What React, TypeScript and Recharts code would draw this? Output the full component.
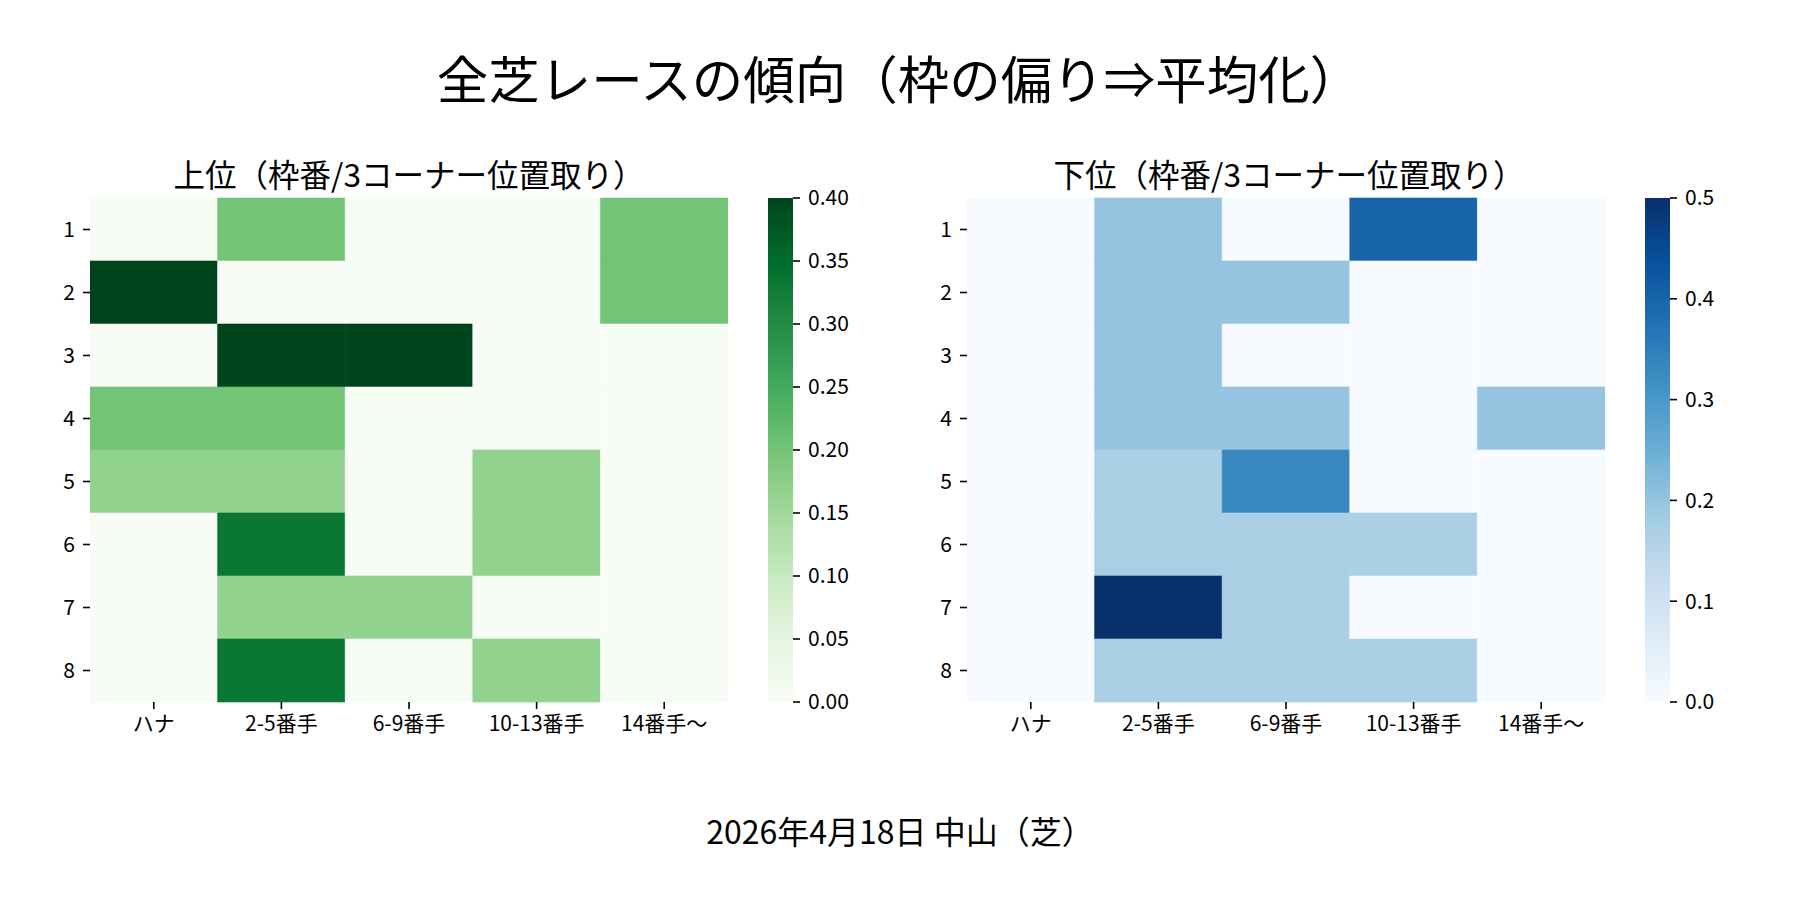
import React from 'react';
import { BarChart, Bar, XAxis, YAxis, Cell } from 'recharts';

const FONT = '"Noto Sans CJK JP", "Noto Sans", sans-serif';

const mainTitle = '全芝レースの傾向（枠の偏り⇒平均化）';
const upperTitle = '上位（枠番/3コーナー位置取り）';
const lowerTitle = '下位（枠番/3コーナー位置取り）';
const footerText = '2026年4月18日 中山（芝）';

const rowLabels = ['1', '2', '3', '4', '5', '6', '7', '8'];
const colLabels = ['ハナ', '2-5番手', '6-9番手', '10-13番手', '14番手〜'];

const upperValues = [
  [0, 0.2, 0, 0, 0.2],
  [0.4, 0, 0, 0, 0.2],
  [0, 0.4, 0.4, 0, 0],
  [0.2, 0.2, 0, 0, 0],
  [0.167, 0.167, 0, 0.167, 0],
  [0, 0.333, 0, 0.167, 0],
  [0, 0.167, 0.167, 0, 0],
  [0, 0.333, 0, 0.167, 0],
];

const lowerValues = [
  [0, 0.2, 0, 0.4, 0],
  [0, 0.2, 0.2, 0, 0],
  [0, 0.2, 0, 0, 0],
  [0, 0.2, 0.2, 0, 0.2],
  [0, 0.167, 0.333, 0, 0],
  [0, 0.167, 0.167, 0.167, 0],
  [0, 0.5, 0.167, 0, 0],
  [0, 0.167, 0.167, 0.167, 0],
];

const upperMax = 0.4;
const lowerMax = 0.5;
const upperTicks = [0, 0.05, 0.1, 0.15, 0.2, 0.25, 0.3, 0.35, 0.4];
const lowerTicks = [0, 0.1, 0.2, 0.3, 0.4, 0.5];

const GREENS = ['#f7fcf5', '#e5f5e0', '#c7e9c0', '#a1d99b', '#74c476', '#41ab5d', '#238b45', '#006d2c', '#00441b'];
const BLUES = ['#f7fbff', '#deebf7', '#c6dbef', '#9ecae1', '#6baed6', '#4292c6', '#2171b5', '#08519c', '#08306b'];

function hexToRgb(h: string) {
  return [parseInt(h.slice(1, 3), 16), parseInt(h.slice(3, 5), 16), parseInt(h.slice(5, 7), 16)];
}

function colorAt(stops: string[], t: number) {
  const tt = Math.max(0, Math.min(1, t));
  const idx = Math.min(255, Math.floor(tt * 256));
  const q = idx / 255;
  const p = q * (stops.length - 1);
  const i = Math.min(stops.length - 2, Math.floor(p));
  const f = p - i;
  const a = hexToRgb(stops[i]);
  const b = hexToRgb(stops[i + 1]);
  const c = a.map((v, k) => Math.round(v + (b[k] - v) * f));
  return `rgb(${c[0]},${c[1]},${c[2]})`;
}

const tickStyle = { fill: '#000', fontSize: 21, fontFamily: FONT };
const tickLineStyle = { stroke: '#000', strokeWidth: 1.6 };

const PLOT_TOP = 198;
const PLOT_BOTTOM = 702;
const CHART_H = 780;
const PLOT_W = 638;
const YAXIS_W = 90;

function Heatmap({ values, stops, vmax, left }: { values: number[][]; stops: string[]; vmax: number; left: number }) {
  const data = rowLabels.map((r) => {
    const o: any = { row: r };
    colLabels.forEach((_, j) => {
      o['c' + j] = 1;
    });
    return o;
  });
  return (
    <div style={{ position: 'absolute', left, top: 0 }}>
      <BarChart
        width={YAXIS_W + PLOT_W + 10}
        height={CHART_H}
        layout="vertical"
        data={data}
        margin={{ top: PLOT_TOP, right: 10, bottom: CHART_H - PLOT_BOTTOM - 50, left: 0 }}
        barCategoryGap={0}
        barGap={0}
      >
        <XAxis
          type="number"
          domain={[0, colLabels.length]}
          ticks={colLabels.map((_, j) => j + 0.5)}
          tickFormatter={(v: number) => colLabels[Math.floor(v)]}
          interval={0}
          axisLine={false}
          tickSize={7}
          tickMargin={7}
          tickLine={tickLineStyle}
          tick={tickStyle}
          height={50}
          allowDataOverflow
        />
        <YAxis
          type="category"
          dataKey="row"
          width={YAXIS_W}
          axisLine={false}
          tickSize={7}
          tickMargin={8}
          tickLine={tickLineStyle}
          tick={tickStyle}
          interval={0}
        />
        {colLabels.map((_, j) => (
          <Bar key={j} dataKey={'c' + j} stackId="h" isAnimationActive={false}>
            {values.map((row, i) => {
              const c = colorAt(stops, row[j] / vmax);
              return <Cell key={i} fill={c} stroke={c} strokeWidth={0.6} />;
            })}
          </Bar>
        ))}
      </BarChart>
    </div>
  );
}

function Colorbar({ stops, vmax, ticks, digits, left, id }: { stops: string[]; vmax: number; ticks: number[]; digits: number; left: number; id: string }) {
  const data = [{ k: 'cb', v: vmax }];
  return (
    <div style={{ position: 'absolute', left, top: 0 }}>
      <BarChart
        width={25 + 80}
        height={CHART_H}
        data={data}
        margin={{ top: PLOT_TOP, right: 0, bottom: CHART_H - PLOT_BOTTOM, left: 0 }}
        barCategoryGap={0}
      >
        <defs>
          <linearGradient id={id} x1="0" y1="1" x2="0" y2="0">
            {stops.map((c, i) => (
              <stop key={i} offset={i / (stops.length - 1)} stopColor={c} />
            ))}
          </linearGradient>
        </defs>
        <XAxis dataKey="k" hide />
        <YAxis
          orientation="right"
          type="number"
          domain={[0, vmax]}
          ticks={ticks}
          tickFormatter={(v: number) => v.toFixed(digits)}
          width={80}
          axisLine={false}
          tickSize={7}
          tickMargin={8}
          tickLine={tickLineStyle}
          tick={{ ...tickStyle, textAnchor: 'start' }}
          interval={0}
        />
        <Bar dataKey="v" fill={`url(#${id})`} isAnimationActive={false} />
      </BarChart>
    </div>
  );
}

const textBase: React.CSSProperties = {
  position: 'absolute',
  fontFamily: FONT,
  color: '#000',
  whiteSpace: 'nowrap',
  transform: 'translateX(-50%)',
};

export default function App() {
  return (
    <div style={{ position: 'absolute', left: 0, top: 0, width: 1800, height: 900, background: '#fff', overflow: 'hidden' }}>
      <div style={{ ...textBase, left: 899, top: 51, fontSize: 51.5, lineHeight: '52px' }}>{mainTitle}</div>
      <div style={{ ...textBase, left: 409, top: 158, fontSize: 31.5, lineHeight: '31px' }}>{upperTitle}</div>
      <div style={{ ...textBase, left: 1289, top: 158, fontSize: 31.5, lineHeight: '31px' }}>{lowerTitle}</div>
      <Heatmap values={upperValues} stops={GREENS} vmax={upperMax} left={90 - YAXIS_W} />
      <Colorbar stops={GREENS} vmax={upperMax} ticks={upperTicks} digits={2} left={768} id="greensGrad" />
      <Heatmap values={lowerValues} stops={BLUES} vmax={lowerMax} left={967 - YAXIS_W} />
      <Colorbar stops={BLUES} vmax={lowerMax} ticks={lowerTicks} digits={1} left={1645} id="bluesGrad" />
      <div style={{ ...textBase, left: 900, top: 814, fontSize: 32, lineHeight: '32px' }}>{footerText}</div>
    </div>
  );
}
